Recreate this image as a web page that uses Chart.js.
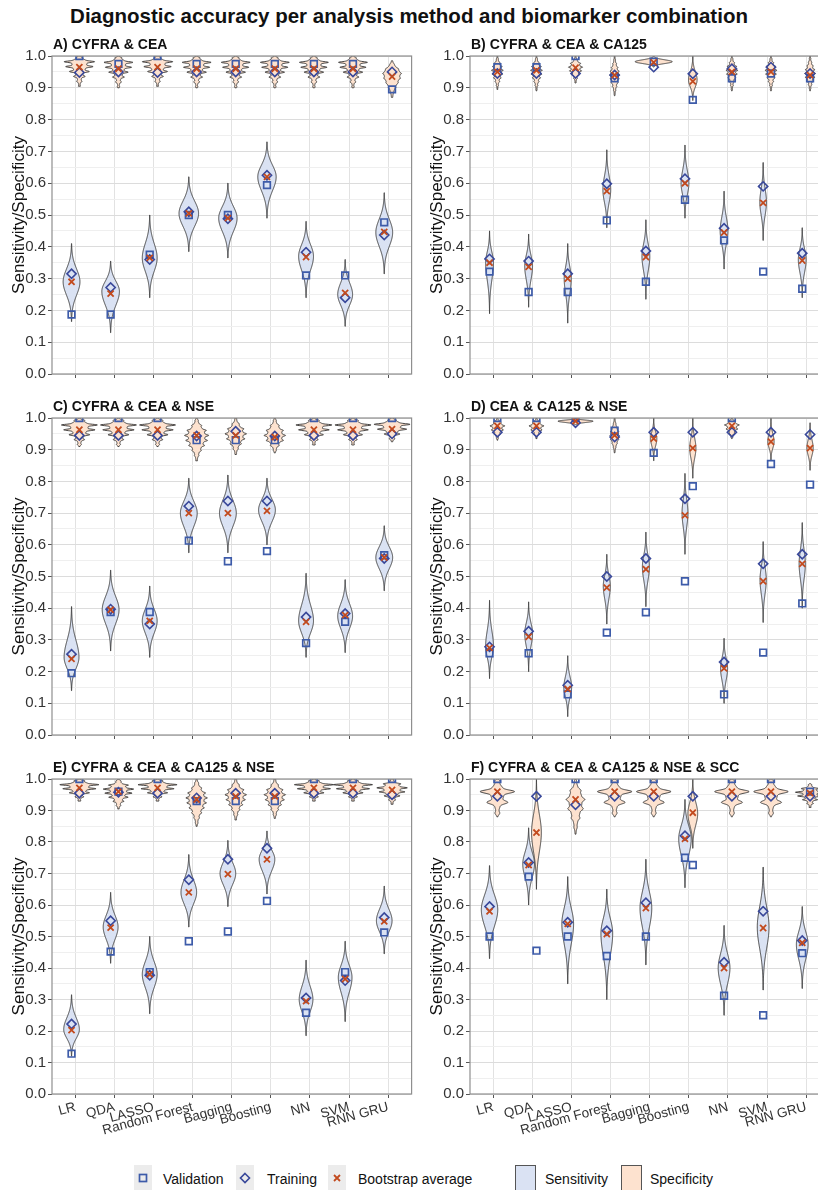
<!DOCTYPE html>
<html>
<head>
<meta charset="utf-8">
<script src="https://cdn.jsdelivr.net/npm/chart.js@4.4.1/dist/chart.umd.min.js"></script>
<style>
  html, body { margin: 0; padding: 0; background: #fff; overflow: hidden; width: 818px; height: 1190px; }
  body { position: relative; font-family: "Liberation Sans", Arial, sans-serif; color: #111; }
  canvas { position: absolute; }
  #title { position: absolute; left: 0; top: 4px; width: 818px; text-align: center; font-weight: bold; font-size: 20.5px; line-height: 24px; }
  .lg { position: absolute; top: 1171px; font-size: 14px; line-height: 16px; white-space: nowrap; }
  .key { position: absolute; top: 1165px; width: 18px; height: 26px; background: #ececec; }
  .sw { position: absolute; top: 1165px; width: 21px; height: 26px; border: 1px solid #555; box-sizing: border-box; }
</style>
</head>
<body>
<div id="title">Diagnostic accuracy per analysis method and biomarker combination</div>

<div class="key" style="left:134px"><svg width="18" height="26"><rect x="5.5" y="9.5" width="7" height="7" fill="none" stroke="#3d5ba9" stroke-width="1.7"/></svg></div>
<span class="lg" style="left:163px">Validation</span>
<div class="key" style="left:236px"><svg width="18" height="26"><path d="M9 8.5 L13.5 13 L9 17.5 L4.5 13 Z" fill="none" stroke="#39489a" stroke-width="1.6"/></svg></div>
<span class="lg" style="left:267px">Training</span>
<div class="key" style="left:328px"><svg width="18" height="26"><path d="M6 10 L12 16 M12 10 L6 16" stroke="#c24a1e" stroke-width="1.8"/></svg></div>
<span class="lg" style="left:358px">Bootstrap average</span>
<div class="sw" style="left:515px;background:#dae2f3"></div>
<span class="lg" style="left:545px">Sensitivity</span>
<div class="sw" style="left:621px;background:#fde2cf"></div>
<span class="lg" style="left:650px">Specificity</span>

<script>
const methods = ["LR", "QDA", "LASSO", "Random Forest", "Bagging", "Boosting", "NN", "SVM", "RNN GRU"];
const yTickLabels = ["0.0", "0.1", "0.2", "0.3", "0.4", "0.5", "0.6", "0.7", "0.8", "0.9", "1.0"];

// violins: [lowest, mode, highest, peak density (category units), lobe depth, lobe spacing]
// points:  [validation, training, bootstrap average]

// A) CYFRA & CEA
const sensA = [
    [0.165, 0.29, 0.41, 0.43], [0.13, 0.26, 0.355, 0.45], [0.24, 0.365, 0.50, 0.38],
    [0.385, 0.505, 0.62, 0.50], [0.365, 0.49, 0.60, 0.47], [0.49, 0.62, 0.73, 0.47],
    [0.24, 0.37, 0.48, 0.38], [0.15, 0.25, 0.36, 0.38], [0.315, 0.445, 0.57, 0.43],
];
const specA = [
    [0.905, 0.982, 1.0, 0.78, 0.5, 0.0155], [0.90, 0.98, 1.0, 0.74, 0.5, 0.0155], [0.905, 0.982, 1.0, 0.78, 0.5, 0.0155],
    [0.90, 0.98, 1.0, 0.74, 0.5, 0.0155], [0.90, 0.98, 1.0, 0.74, 0.5, 0.0155], [0.90, 0.98, 1.0, 0.74, 0.5, 0.0155],
    [0.90, 0.98, 1.0, 0.74, 0.5, 0.0155], [0.90, 0.98, 1.0, 0.74, 0.5, 0.0155], [0.87, 0.945, 0.985, 0.48, 0.15, 0.015],
];
const sensPtsA = [
    [0.187, 0.315, 0.29], [0.187, 0.272, 0.253], [0.375, 0.36, 0.365],
    [0.50, 0.51, 0.505], [0.50, 0.488, 0.49], [0.594, 0.625, 0.62],
    [0.31, 0.383, 0.368], [0.31, 0.24, 0.255], [0.477, 0.437, 0.447],
];
const specPtsA = [
    [1.0, 0.948, 0.965], [0.975, 0.95, 0.96], [1.0, 0.948, 0.965],
    [0.975, 0.95, 0.96], [0.975, 0.95, 0.96], [0.975, 0.95, 0.96],
    [0.975, 0.95, 0.96], [0.975, 0.95, 0.96], [0.895, 0.95, 0.935],
];

// B) CYFRA & CEA & CA125
const sensB = [
    [0.19, 0.35, 0.45, 0.2], [0.21, 0.34, 0.44, 0.2], [0.16, 0.30, 0.41, 0.18],
    [0.46, 0.58, 0.705, 0.2], [0.235, 0.37, 0.485, 0.2], [0.49, 0.60, 0.72, 0.2],
    [0.33, 0.45, 0.575, 0.2], [0.42, 0.54, 0.665, 0.17], [0.24, 0.36, 0.46, 0.2],
];
const specB = [
    [0.895, 0.955, 1.0, 0.3, 0.35, 0.012], [0.89, 0.955, 1.0, 0.3, 0.35, 0.012], [0.915, 0.965, 1.0, 0.36, 0.35, 0.012],
    [0.875, 0.94, 1.0, 0.26, 0.3, 0.012], [0.965, 0.982, 1.0, 0.95, 0, 0.01], [0.86, 0.925, 1.0, 0.22, 0, 0.01],
    [0.89, 0.955, 1.0, 0.3, 0.35, 0.012], [0.89, 0.955, 1.0, 0.3, 0.35, 0.012], [0.89, 0.945, 1.0, 0.28, 0.35, 0.012],
];
const sensPtsB = [
    [0.322, 0.362, 0.35], [0.258, 0.355, 0.337], [0.258, 0.315, 0.30],
    [0.483, 0.598, 0.575], [0.29, 0.387, 0.368], [0.548, 0.614, 0.60],
    [0.42, 0.458, 0.445], [0.322, 0.59, 0.538], [0.268, 0.38, 0.357],
];
const specPtsB = [
    [0.965, 0.945, 0.95], [0.965, 0.945, 0.955], [1.0, 0.945, 0.963],
    [0.93, 0.94, 0.94], [0.982, 0.965, 0.98], [0.862, 0.944, 0.92],
    [0.93, 0.96, 0.95], [0.945, 0.965, 0.95], [0.93, 0.945, 0.94],
];

// C) CYFRA & CEA & NSE
const sensC = [
    [0.14, 0.245, 0.405, 0.38], [0.265, 0.395, 0.52, 0.43], [0.245, 0.36, 0.47, 0.38],
    [0.575, 0.70, 0.81, 0.43], [0.575, 0.70, 0.82, 0.43], [0.60, 0.71, 0.81, 0.43],
    [0.245, 0.36, 0.51, 0.38], [0.26, 0.375, 0.49, 0.38], [0.455, 0.56, 0.66, 0.43],
];
const specC = [
    [0.91, 0.978, 1.0, 0.92, 0.5, 0.0155], [0.91, 0.978, 1.0, 0.92, 0.5, 0.0155], [0.91, 0.978, 1.0, 0.92, 0.5, 0.0155],
    [0.865, 0.945, 1.0, 0.62, 0.3, 0.016], [0.885, 0.95, 1.0, 0.55, 0.3, 0.016], [0.89, 0.945, 1.0, 0.55, 0.3, 0.016],
    [0.915, 0.978, 1.0, 0.92, 0.5, 0.0155], [0.915, 0.978, 1.0, 0.92, 0.5, 0.0155], [0.925, 0.98, 1.0, 0.92, 0.5, 0.0155],
];
const sensPtsC = [
    [0.195, 0.255, 0.24], [0.388, 0.397, 0.395], [0.388, 0.35, 0.36],
    [0.613, 0.722, 0.70], [0.548, 0.738, 0.70], [0.58, 0.738, 0.707],
    [0.29, 0.372, 0.357], [0.357, 0.383, 0.378], [0.567, 0.557, 0.56],
];
const specPtsC = [
    [1.0, 0.945, 0.963], [1.0, 0.945, 0.963], [1.0, 0.945, 0.963],
    [0.93, 0.943, 0.945], [0.93, 0.958, 0.945], [0.93, 0.943, 0.94],
    [1.0, 0.945, 0.963], [1.0, 0.945, 0.963], [1.0, 0.95, 0.965],
];

// D) CEA & CA125 & NSE
const sensD = [
    [0.178, 0.28, 0.425, 0.2], [0.20, 0.32, 0.42, 0.2], [0.058, 0.15, 0.25, 0.2],
    [0.35, 0.47, 0.57, 0.18], [0.405, 0.53, 0.64, 0.18], [0.57, 0.70, 0.825, 0.15],
    [0.10, 0.21, 0.305, 0.18], [0.355, 0.49, 0.61, 0.16], [0.40, 0.54, 0.67, 0.16],
];
const specD = [
    [0.93, 0.975, 1.0, 0.38, 0.35, 0.013], [0.935, 0.975, 1.0, 0.38, 0.35, 0.013], [0.978, 0.99, 1.0, 0.9, 0, 0.01],
    [0.89, 0.945, 1.0, 0.24, 0.2, 0.013], [0.865, 0.935, 1.0, 0.16, 0, 0.01], [0.81, 0.905, 1.0, 0.16, 0, 0.01],
    [0.935, 0.978, 1.0, 0.38, 0.35, 0.013], [0.865, 0.925, 1.0, 0.16, 0, 0.01], [0.835, 0.905, 0.985, 0.16, 0, 0.01],
];
const sensPtsD = [
    [0.258, 0.278, 0.275], [0.258, 0.327, 0.31], [0.128, 0.157, 0.145],
    [0.323, 0.50, 0.465], [0.387, 0.557, 0.523], [0.485, 0.745, 0.693],
    [0.128, 0.23, 0.21], [0.26, 0.54, 0.485], [0.415, 0.57, 0.54],
];
const specPtsD = [
    [1.0, 0.955, 0.975], [1.0, 0.955, 0.975], [1.0, 0.985, 0.99],
    [0.96, 0.94, 0.945], [0.89, 0.955, 0.935], [0.785, 0.955, 0.905],
    [1.0, 0.955, 0.975], [0.855, 0.955, 0.925], [0.79, 0.948, 0.905],
];

// E) CYFRA & CEA & CA125 & NSE
const sensE = [
    [0.12, 0.205, 0.315, 0.4], [0.415, 0.53, 0.64, 0.38], [0.255, 0.38, 0.50, 0.38],
    [0.53, 0.64, 0.76, 0.4], [0.595, 0.70, 0.805, 0.4], [0.635, 0.745, 0.835, 0.4],
    [0.185, 0.30, 0.425, 0.35], [0.23, 0.37, 0.485, 0.35], [0.445, 0.55, 0.66, 0.4],
];
const specE = [
    [0.93, 0.982, 1.0, 1.0, 0.5, 0.013], [0.905, 0.968, 1.0, 0.78, 0.45, 0.013], [0.93, 0.982, 1.0, 1.0, 0.5, 0.013],
    [0.85, 0.94, 1.0, 0.55, 0.3, 0.016], [0.87, 0.95, 1.0, 0.55, 0.3, 0.016], [0.875, 0.95, 1.0, 0.55, 0.3, 0.016],
    [0.93, 0.982, 1.0, 1.0, 0.5, 0.013], [0.93, 0.982, 1.0, 1.0, 0.5, 0.013], [0.92, 0.972, 1.0, 0.78, 0.45, 0.013],
];
const sensPtsE = [
    [0.128, 0.222, 0.203], [0.452, 0.55, 0.528], [0.387, 0.377, 0.38],
    [0.485, 0.68, 0.64], [0.516, 0.745, 0.698], [0.613, 0.78, 0.745],
    [0.258, 0.305, 0.295], [0.387, 0.36, 0.365], [0.513, 0.56, 0.548],
];
const specPtsE = [
    [1.0, 0.955, 0.972], [0.96, 0.958, 0.96], [1.0, 0.955, 0.972],
    [0.93, 0.94, 0.935], [0.93, 0.955, 0.945], [0.93, 0.955, 0.945],
    [1.0, 0.955, 0.972], [1.0, 0.955, 0.972], [1.0, 0.95, 0.965],
];

// F) CYFRA & CEA & CA125 & NSE & SCC
const sensF = [
    [0.43, 0.585, 0.725, 0.42], [0.60, 0.73, 0.845, 0.3], [0.35, 0.54, 0.69, 0.3],
    [0.30, 0.51, 0.65, 0.3], [0.41, 0.59, 0.745, 0.3], [0.655, 0.81, 0.935, 0.32],
    [0.25, 0.40, 0.535, 0.3], [0.33, 0.53, 0.72, 0.3], [0.335, 0.475, 0.595, 0.3],
];
const specF = [
    [0.88, 0.96, 1.0, 0.88, 0.6, 0.035], [0.65, 0.83, 1.0, 0.25, 0, 0.01], [0.825, 0.935, 1.0, 0.48, 0.3, 0.03],
    [0.88, 0.96, 1.0, 0.88, 0.6, 0.035], [0.88, 0.96, 1.0, 0.88, 0.6, 0.035], [0.78, 0.89, 1.0, 0.25, 0, 0.01],
    [0.88, 0.96, 1.0, 0.88, 0.6, 0.035], [0.88, 0.96, 1.0, 0.88, 0.6, 0.035], [0.91, 0.958, 0.985, 0.75, 0.5, 0.012],
];
const sensPtsF = [
    [0.50, 0.595, 0.58], [0.69, 0.735, 0.727], [0.50, 0.545, 0.54],
    [0.438, 0.518, 0.508], [0.50, 0.607, 0.59], [0.75, 0.82, 0.81],
    [0.312, 0.418, 0.40], [0.25, 0.58, 0.527], [0.447, 0.487, 0.48],
];
const specPtsF = [
    [1.0, 0.945, 0.96], [0.455, 0.945, 0.83], [1.0, 0.918, 0.935],
    [1.0, 0.945, 0.96], [1.0, 0.945, 0.96], [0.727, 0.945, 0.893],
    [1.0, 0.945, 0.96], [1.0, 0.945, 0.96], [0.96, 0.945, 0.955],
];

const FONT = '"Liberation Sans", Arial, sans-serif';
const SENS_FILL = "#dae2f3";
const SPEC_FILL = "#fde2cf";
const OUTLINE = "#333333";
const VAL_COLOR = "#3d5ba9";
const TRAIN_COLOR = "#39489a";
const BOOT_COLOR = "#c24a1e";
const DODGE = 0.1;

const panels = [
    { title: "A) CYFRA & CEA", sens: sensA, spec: specA, sensPts: sensPtsA, specPts: specPtsA, left: 52, right: 412, top: 56, bottom: 377, labels: false },
    { title: "B) CYFRA & CEA & CA125", sens: sensB, spec: specB, sensPts: sensPtsB, specPts: specPtsB, left: 470, right: 830, top: 56, bottom: 377, labels: false },
    { title: "C) CYFRA & CEA & NSE", sens: sensC, spec: specC, sensPts: sensPtsC, specPts: specPtsC, left: 52, right: 412, top: 418, bottom: 738, labels: false },
    { title: "D) CEA & CA125 & NSE", sens: sensD, spec: specD, sensPts: sensPtsD, specPts: specPtsD, left: 470, right: 830, top: 418, bottom: 738, labels: false },
    { title: "E) CYFRA & CEA & CA125 & NSE", sens: sensE, spec: specE, sensPts: sensPtsE, specPts: specPtsE, left: 52, right: 412, top: 779, bottom: 1094, labels: true },
    { title: "F) CYFRA & CEA & CA125 & NSE & SCC", sens: sensF, spec: specF, sensPts: sensPtsF, specPts: specPtsF, left: 470, right: 830, top: 779, bottom: 1094, labels: true },
];

function drawViolin(ctx, xs, ys, xc, v, fill) {
    const [lo, peak, hi, dens, wave = 0, step = 0.01] = v;
    const unit = xs.getPixelForValue(1) - xs.getPixelForValue(0);
    // lobed (discrete) distributions taper more like a tree than a bell
    const spread = wave ? 2.3 : 3;
    const sLo = Math.max(peak - lo, 0.004) / spread;
    const sHi = Math.max(hi - peak, 0.004) / spread;
    const px = xs.getPixelForValue(xc);
    const n = 160;
    const side = [];
    for (let i = 0; i <= n; i++) {
        const val = lo + (hi - lo) * i / n;
        const s = val < peak ? sLo : sHi;
        let g = Math.exp(-0.5 * ((val - peak) / s) ** 2);
        if (wave) {
            const c = Math.cos(Math.PI * (val - peak) / step) ** 2;
            g *= 1 - wave * (1 - c ** 3);
        }
        side.push([g * dens * unit / 2, ys.getPixelForValue(val)]);
    }
    ctx.beginPath();
    side.forEach(([w, py], i) => (i ? ctx.lineTo(px - w, py) : ctx.moveTo(px - w, py)));
    for (let i = side.length - 1; i >= 0; i--) ctx.lineTo(px + side[i][0], side[i][1]);
    ctx.closePath();
    ctx.fillStyle = fill;
    ctx.fill();
    ctx.strokeStyle = OUTLINE;
    ctx.lineWidth = 0.9;
    ctx.stroke();
}

function markerData(sensPts, specPts, k) {
    const out = [];
    methods.forEach((m, i) => {
        out.push({ x: i + 1 - DODGE, y: sensPts[i][k] });
        out.push({ x: i + 1 + DODGE, y: specPts[i][k] });
    });
    return out;
}

const isMajor = (v) => Math.round(v * 20) % 2 === 0;

function makePanel(p) {
    const padTop = 24;
    const yWidth = 52;
    const xHeight = p.labels ? 62 : 6;
    const canvasLeft = p.left - yWidth;
    const width = p.right - canvasLeft + 6;
    const height = padTop + (p.bottom - p.top) + xHeight + 2;

    const canvas = document.createElement("canvas");
    canvas.width = width;
    canvas.height = height;
    canvas.style.left = canvasLeft + "px";
    canvas.style.top = (p.top - padTop) + "px";
    canvas.style.width = width + "px";
    canvas.style.height = height + "px";
    document.body.appendChild(canvas);

    const violinPlugin = {
        id: "violins",
        beforeDatasetsDraw(chart) {
            const { ctx, chartArea: a } = chart;
            const xs = chart.scales.x, ys = chart.scales.y;
            ctx.save();
            ctx.beginPath();
            ctx.rect(a.left, a.top, a.right - a.left, a.bottom - a.top);
            ctx.clip();
            p.sens.forEach((v, i) => drawViolin(ctx, xs, ys, i + 1 - DODGE, v, SENS_FILL));
            p.spec.forEach((v, i) => drawViolin(ctx, xs, ys, i + 1 + DODGE, v, SPEC_FILL));
            ctx.restore();
        },
        afterDatasetsDraw(chart) {
            const { ctx, chartArea: a } = chart;
            ctx.save();
            ctx.strokeStyle = "#8f8f8f";
            ctx.lineWidth = 1.2;
            ctx.strokeRect(a.left, a.top, a.right - a.left, a.bottom - a.top);
            ctx.restore();
        },
        afterDraw(chart) {
            const { ctx, chartArea: a } = chart;
            ctx.save();
            ctx.font = "bold 14px " + FONT;
            ctx.fillStyle = "#111";
            ctx.textBaseline = "alphabetic";
            ctx.fillText(p.title, a.left + 1, a.top - 7);
            ctx.restore();
        },
    };

    const common = {
        showLine: false,
        pointBackgroundColor: "rgba(0,0,0,0)",
        pointHoverRadius: 0,
        clip: 0,
    };

    new Chart(canvas, {
        type: "scatter",
        data: {
            datasets: [
                { ...common, label: "Validation", data: markerData(p.sensPts, p.specPts, 0), pointStyle: "rect", pointRadius: 4.7, pointBorderColor: VAL_COLOR, pointBorderWidth: 1.7, order: 3 },
                { ...common, label: "Training", data: markerData(p.sensPts, p.specPts, 1), pointStyle: "rectRot", pointRadius: 4.6, pointBorderColor: TRAIN_COLOR, pointBorderWidth: 1.6, order: 2 },
                { ...common, label: "Bootstrap average", data: markerData(p.sensPts, p.specPts, 2), pointStyle: "crossRot", pointRadius: 4.3, pointBorderColor: BOOT_COLOR, pointBorderWidth: 1.8, order: 1 },
            ],
        },
        options: {
            responsive: false,
            animation: false,
            events: [],
            layout: { padding: { left: 0, top: padTop, right: 6, bottom: 2 } },
            plugins: { legend: { display: false }, tooltip: { enabled: false }, title: { display: false } },
            scales: {
                x: {
                    type: "linear",
                    min: 0.4,
                    max: 9.6,
                    afterBuildTicks: (s) => { s.ticks = methods.map((m, i) => ({ value: i + 1 })); },
                    afterFit: (s) => { s.height = xHeight; },
                    border: { display: false },
                    grid: { color: "#e2e2e2", lineWidth: 1, drawTicks: true, tickLength: 4, tickColor: "#555" },
                    ticks: {
                        autoSkip: false,
                        minRotation: 15,
                        maxRotation: 15,
                        padding: 1,
                        color: "#333",
                        font: { family: FONT, size: 13.5 },
                        callback: (v) => (p.labels ? methods[Math.round(v) - 1] : ""),
                    },
                },
                y: {
                    min: 0,
                    max: 1,
                    afterFit: (s) => { s.width = yWidth; },
                    border: { display: false },
                    grid: {
                        color: (c) => (c.tick && isMajor(c.tick.value) ? "#dcdcdc" : "#efefef"),
                        lineWidth: 1,
                        drawTicks: true,
                        tickLength: 4,
                        tickColor: (c) => (c.tick && isMajor(c.tick.value) ? "#555" : "rgba(0,0,0,0)"),
                    },
                    ticks: {
                        stepSize: 0.05,
                        autoSkip: false,
                        padding: 2,
                        color: "#333",
                        font: { family: FONT, size: 15 },
                        callback: (v) => {
                            const k = Math.round(v * 20);
                            return k % 2 === 0 ? yTickLabels[k / 2] : "";
                        },
                    },
                    title: {
                        display: true,
                        text: "Sensitivity/Specificity",
                        color: "#111",
                        font: { family: FONT, size: 17 },
                        padding: { top: 9, bottom: 0 },
                    },
                },
            },
        },
        plugins: [violinPlugin],
    });
}

panels.forEach(makePanel);
</script>
</body>
</html>
